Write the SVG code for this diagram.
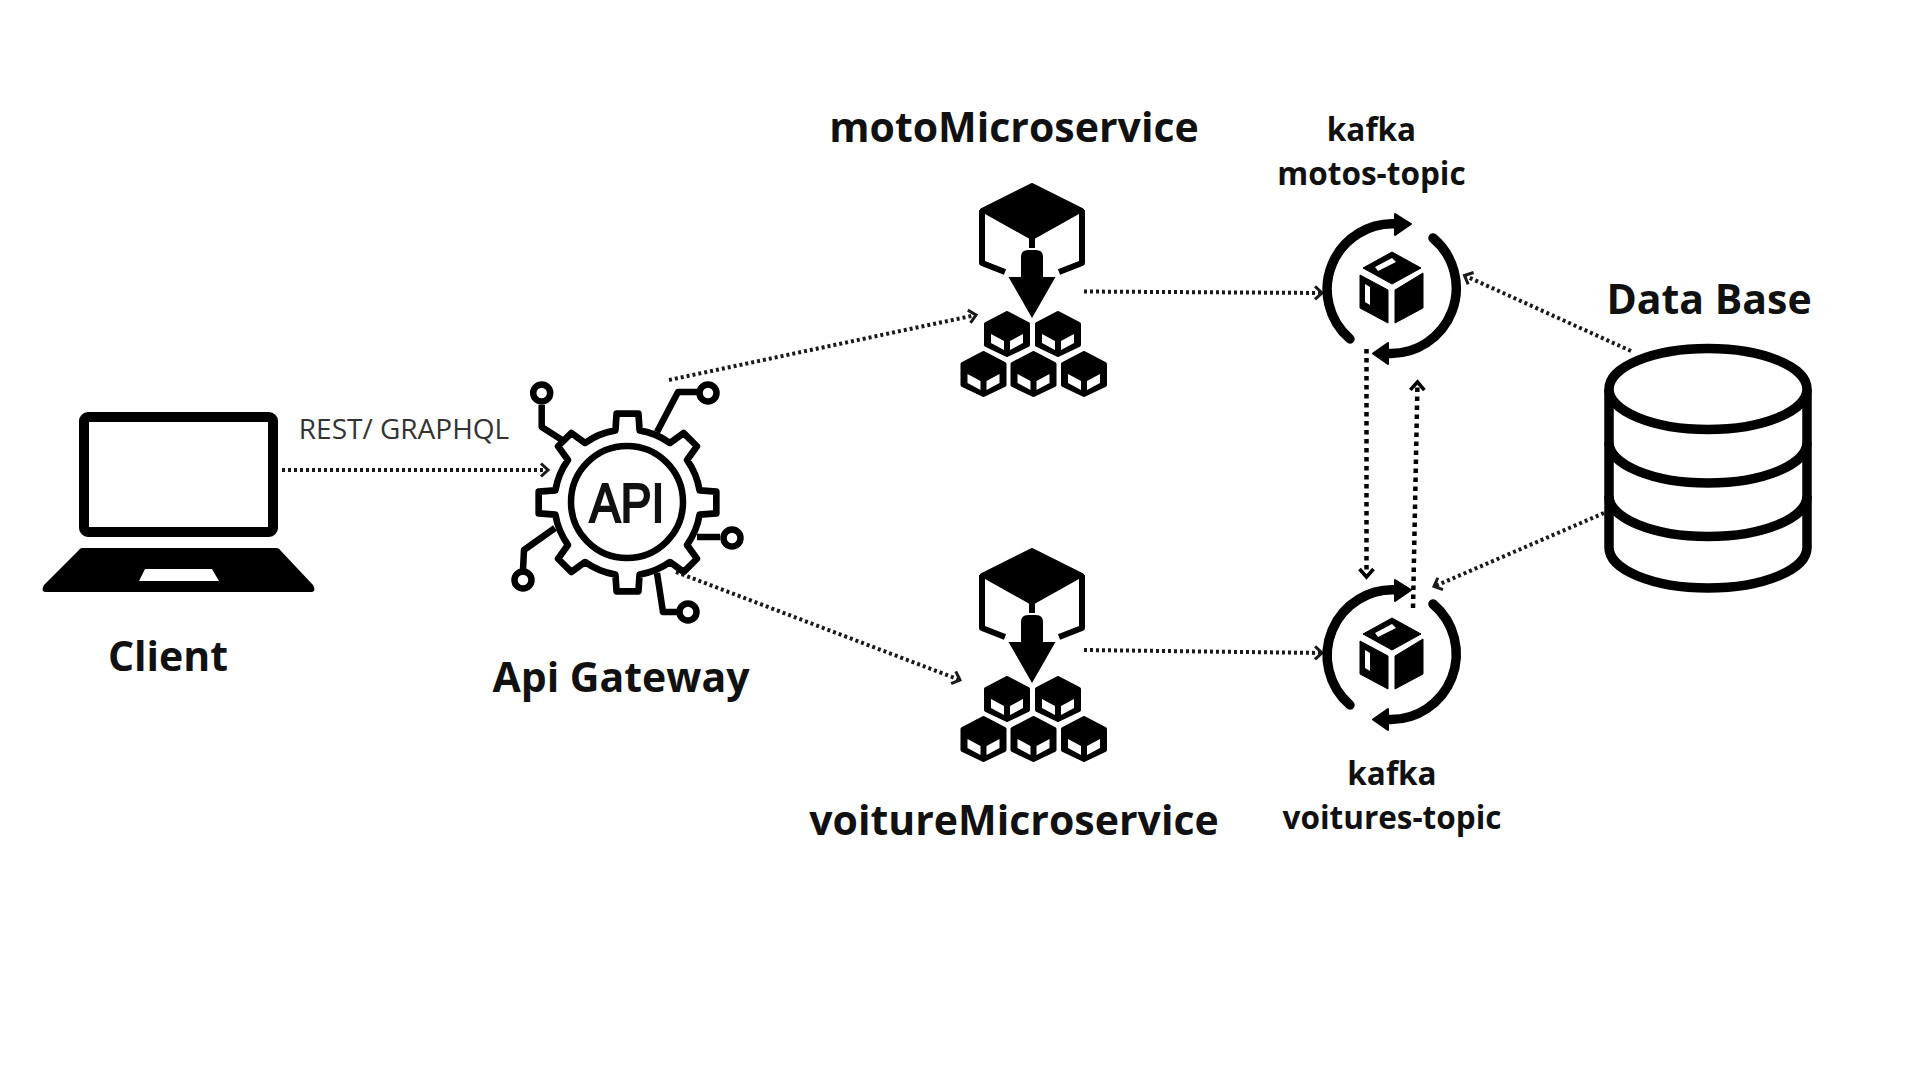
<svg xmlns="http://www.w3.org/2000/svg" width="1920" height="1080" viewBox="0 0 1920 1080">
<style>
text{font-family:"Open Sans","Noto Sans","Liberation Sans",sans-serif;fill:#111;text-anchor:middle}
.b{font-weight:700}
.line{fill:none;stroke:#000;stroke-width:6.5;stroke-linejoin:round}
.cn{fill:#fff;stroke:#000;stroke-width:6.5}
.dot{fill:none;stroke:#1a1a1a;stroke-width:4;stroke-dasharray:3 3}
.dotv{fill:none;stroke:#000;stroke-width:4.5;stroke-dasharray:4.5 4.5}
</style>
<defs>
<marker id="ah" markerUnits="userSpaceOnUse" markerWidth="16" markerHeight="18" refX="9" refY="8" orient="auto"><path d="M2,1.5 L9,8 L2,14.5" fill="none" stroke="#1a1a1a" stroke-width="3"/></marker>
<marker id="ahv" markerUnits="userSpaceOnUse" markerWidth="18" markerHeight="20" refX="10" refY="9" orient="auto"><path d="M2,2 L10,9 L2,16" fill="none" stroke="#000" stroke-width="3.6"/></marker>
<g id="minicube"><path d="M0,-21 L21,-10 V11 L0,21 L-21,11 V-10Z" fill="#000" stroke="#000" stroke-width="4" stroke-linejoin="round"/><path d="M-16,0 L-3,7 V16 L-16,9Z M16,0 L3,7 V16 L16,9Z" fill="#fff"/></g>
<g id="micro">
<path d="M0,0 L50,25 L0,53 L-50,25Z" fill="#000" stroke="#000" stroke-width="4" stroke-linejoin="round"/>
<path d="M-50,25 V78 L-27,87 M50,25 V78 L27,87 M0,53 V63" fill="none" stroke="#000" stroke-width="6" stroke-linejoin="round"/>
<path d="M-11,72 Q-11,65 -4,65 H4 Q11,65 11,72 V92 H23.5 L0,133 L-23.5,92 H-11Z" fill="#000"/>
<use href="#minicube" x="-25" y="149"/><use href="#minicube" x="26" y="149"/>
<use href="#minicube" x="-48.5" y="189"/><use href="#minicube" x="1.5" y="189"/><use href="#minicube" x="52" y="189"/>
</g>
<g id="kafka">
<path d="M-42,51 A65.5,65.5 0 0 1 6,-64" fill="none" stroke="#000" stroke-width="9.5" stroke-linecap="round"/>
<path d="M3,-74 L19,-64 L3,-53Z" fill="#000" stroke="#000" stroke-width="2" stroke-linejoin="round"/>
<path d="M41,-50 A65.5,65.5 0 0 1 -4,65.5" fill="none" stroke="#000" stroke-width="9.5" stroke-linecap="round"/>
<path d="M-4,55 L-19,65.5 L-4,76Z" fill="#000" stroke="#000" stroke-width="2" stroke-linejoin="round"/>
<path d="M0,-36 L29,-20 L0,-4 L-29,-20Z M-32,-13 L-4,2 V35 L-32,20Z M31,-15 L3,2 V35 L31,20Z" fill="#000" stroke="#000" stroke-width="1" stroke-linejoin="round"/>
<path d="M-17,-21 L0,-30 L4,-26 L-14,-17Z M-27,-4 L-22,-1 V17 L-27,14Z" fill="#fff"/>
</g>
</defs>
<rect width="1920" height="1080" fill="#fff"/>

<g id="connectors">
<path class="dot" marker-end="url(#ah)" d="M282,470 H548"/>
<path class="dot" marker-end="url(#ah)" d="M669,380 L976,315"/>
<path class="dot" marker-end="url(#ah)" d="M676,572 L960,680"/>
<path class="dot" marker-end="url(#ah)" d="M1084,291.5 L1322,293"/>
<path class="dot" marker-end="url(#ah)" d="M1084,650 L1322,653"/>
<path class="dot" marker-end="url(#ah)" d="M1631,351 L1464.5,275.5"/>
<path class="dot" marker-end="url(#ah)" d="M1604,513 L1434,586.5"/>
</g>

<g id="client">
<rect x="84" y="417" width="189" height="115" rx="4" fill="#fff" stroke="#000" stroke-width="10"/>
<path fill-rule="evenodd" d="M82,548 H277 Q279,548 281,551 L313,585 Q317,592 310,592 H47 Q40,592 44,585 L78,551 Q80,548 82,548Z M145,569 L139,581 H219 L212,569Z" fill="#000"/>
<text class="b" x="168" y="671" font-size="41">Client</text>
</g>

<text id="protocol" x="404" y="439" font-size="28" style="fill:#333">REST/ GRAPHQL</text>

<g id="gateway">
<g transform="translate(627.5,502.5) scale(.95)">
<path fill="#fff" stroke="#000" stroke-width="7" stroke-linejoin="round" d="M-12.7,-75.9 L-11.5,-93.5 L11.5,-93.5 L12.7,-75.9 A77,77 0 0 1 44.7,-62.7 L59.2,-73.1 L73.1,-59.2 L62.7,-44.7 A77,77 0 0 1 75.9,-12.7 L93.5,-11.5 L93.5,11.5 L75.9,12.7 A77,77 0 0 1 62.7,44.7 L73.1,59.2 L59.2,73.1 L44.7,62.7 A77,77 0 0 1 12.7,75.9 L11.5,93.5 L-11.5,93.5 L-12.7,75.9 A77,77 0 0 1 -44.7,62.7 L-59.2,73.1 L-73.1,59.2 L-62.7,44.7 A77,77 0 0 1 -75.9,12.7 L-93.5,11.5 L-93.5,-11.5 L-75.9,-12.7 A77,77 0 0 1 -62.7,-44.7 L-73.1,-59.2 L-59.2,-73.1 L-44.7,-62.7 A77,77 0 0 1 -12.7,-75.9Z"/>
</g>
<circle cx="627" cy="502" r="56" fill="#fff" stroke="#000" stroke-width="6.5"/>
<text x="627" y="522" font-size="55" textLength="75" lengthAdjust="spacingAndGlyphs" stroke="#111" stroke-width="2.2" style="font-family:'Liberation Sans',sans-serif">API</text>
<path class="line" d="M541.7,405 V427 L562,440 M697,392 H678 L657,432 M720,537 H697 M523,570 L524,550 L555,528 M677,612 H663 L657,573"/>
<circle class="cn" cx="541.7" cy="393" r="8.5"/><circle class="cn" cx="708" cy="393" r="8.5"/><circle class="cn" cx="732" cy="538" r="8.5"/><circle class="cn" cx="523" cy="580" r="8.5"/><circle class="cn" cx="688" cy="612" r="8.5"/>
<text class="b" x="621" y="692" font-size="41">Api Gateway</text>
</g>

<g id="motoMicroservice">
<text class="b" x="1014" y="142" font-size="41">motoMicroservice</text>
<use href="#micro" x="1032" y="185"/>
</g>
<g id="voitureMicroservice">
<use href="#micro" x="1032" y="550"/>
<text class="b" x="1014" y="835" font-size="41">voitureMicroservice</text>
</g>
<g id="kafkaMotos">
<text class="b" x="1371.5" y="141" font-size="31.5">kafka</text>
<text class="b" x="1371.5" y="185" font-size="31.5">motos-topic</text>
<use href="#kafka" x="1392" y="288"/>
</g>
<g id="kafkaVoitures">
<use href="#kafka" x="1392" y="654"/>
<text class="b" x="1392" y="785" font-size="31.5">kafka</text>
<text class="b" x="1392" y="829" font-size="31.5">voitures-topic</text>
</g>

<g id="database">
<path d="M1609,389 V547.5 A99,40.5 0 0 0 1807,547.5 V389" fill="#fff" stroke="#000" stroke-width="9.5"/>
<ellipse cx="1708" cy="389" rx="99" ry="40.5" fill="#fff" stroke="#000" stroke-width="9.5"/>
<path d="M1609,442.5 A99,40.5 0 0 0 1807,442.5 M1609,496 A99,40.5 0 0 0 1807,496" fill="none" stroke="#000" stroke-width="9.5"/>
<text class="b" x="1709" y="314" font-size="41">Data Base</text>
</g>

<g id="kafka-links">
<path class="dotv" marker-end="url(#ahv)" d="M1366.5,349 V577"/>
<path class="dotv" marker-end="url(#ahv)" d="M1413,608 L1417.5,382"/>
</g>
</svg>
